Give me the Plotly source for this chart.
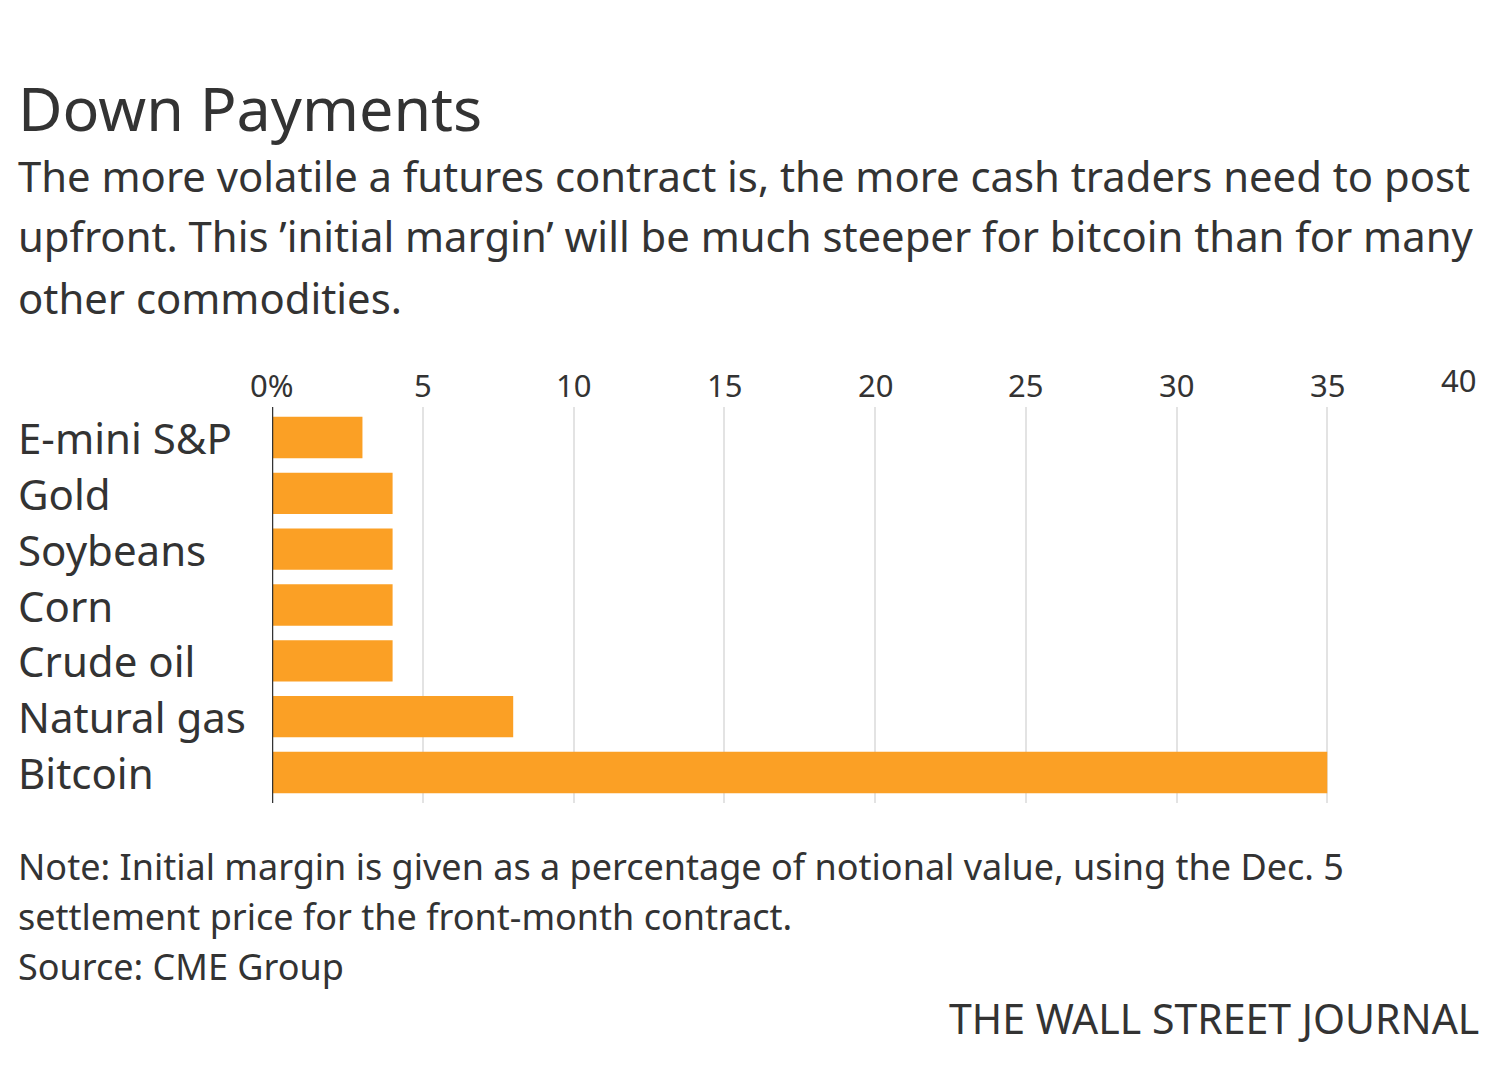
import plotly.graph_objects as go

categories = ["E-mini S&P", "Gold", "Soybeans", "Corn", "Crude oil", "Natural gas", "Bitcoin"]
margin_pct = [3, 4, 4, 4, 4, 8, 35]
tick_vals = [0, 5, 10, 15, 20, 25, 30, 35, 40]
tick_text = ["0%", "5", "10", "15", "20", "25", "30", "35", "40"]

title = "Down Payments"
subtitle_lines = [
    "The more volatile a futures contract is, the more cash traders need to post",
    "upfront. This \u2019initial margin\u2019 will be much steeper for bitcoin than for many",
    "other commodities.",
]
note_lines = [
    "Note: Initial margin is given as a percentage of notional value, using the Dec. 5",
    "settlement price for the front-month contract.",
    "Source: CME Group",
]
credit = "THE WALL STREET JOURNAL"

W, H = 1497, 1080
L, R, T, B = 272, 1478, 407, 803
FONT = "Noto Sans"
TXT = "#333333"


def px_x(p):
    return (p - L) / (R - L)


def px_y(p):
    return (B - p) / (B - T)


fig = go.Figure()
fig.add_trace(go.Bar(
    x=margin_pct, y=categories, orientation="h",
    marker=dict(color="#FBA025", line=dict(width=0)),
    width=0.74, hoverinfo="skip",
))

ann = []
ann.append(dict(text=title, x=px_x(16), y=px_y(107), xref="paper", yref="paper",
                xanchor="left", yanchor="middle", showarrow=False,
                font=dict(family=FONT, size=61, color=TXT)))
for i, line in enumerate(subtitle_lines):
    ann.append(dict(text=line, x=px_x(16), y=px_y(175 + 61 * i), xref="paper", yref="paper",
                    xanchor="left", yanchor="middle", showarrow=False,
                    font=dict(family=FONT, size=41.8, color=TXT)))
for c in categories:
    ann.append(dict(text=c, x=px_x(16), y=c, xref="paper", yref="y",
                    xanchor="left", yanchor="middle", showarrow=False,
                    font=dict(family=FONT, size=42, color=TXT)))
for v, t in zip(tick_vals, tick_text):
    last = v == tick_vals[-1]
    ann.append(dict(text=t, x=v, y=px_y(380 if last else 385), xref="x", yref="paper",
                    xanchor="right" if last else "center", yanchor="middle", showarrow=False,
                    font=dict(family=FONT, size=31, color=TXT)))
for i, line in enumerate(note_lines):
    ann.append(dict(text=line, x=px_x(16), y=px_y(866 + 50 * i), xref="paper", yref="paper",
                    xanchor="left", yanchor="middle", showarrow=False,
                    font=dict(family=FONT, size=36, color=TXT)))
ann.append(dict(text=credit, x=px_x(1481), y=px_y(1018), xref="paper", yref="paper",
                xanchor="right", yanchor="middle", showarrow=False,
                font=dict(family=FONT, size=41, color=TXT)))

fig.update_layout(
    width=W, height=H,
    margin=dict(l=L, r=W - R, t=T, b=H - B),
    paper_bgcolor="white", plot_bgcolor="white",
    showlegend=False,
    annotations=ann,
    xaxis=dict(range=[0, 40], side="top", tickvals=tick_vals, showticklabels=False,
               showgrid=True, gridcolor="#E3E3E3", gridwidth=2, zeroline=False,
               showline=False, ticks="", ticklen=0),
    yaxis=dict(categoryorder="array", categoryarray=categories, autorange="reversed",
               showticklabels=False, showgrid=False, zeroline=False,
               showline=False, ticks=""),
    shapes=[dict(type="line", xref="x", yref="paper", x0=0, x1=0, y0=0, y1=1,
                 line=dict(color="#333333", width=2.5))],
)

fig.write_html("out.html")
